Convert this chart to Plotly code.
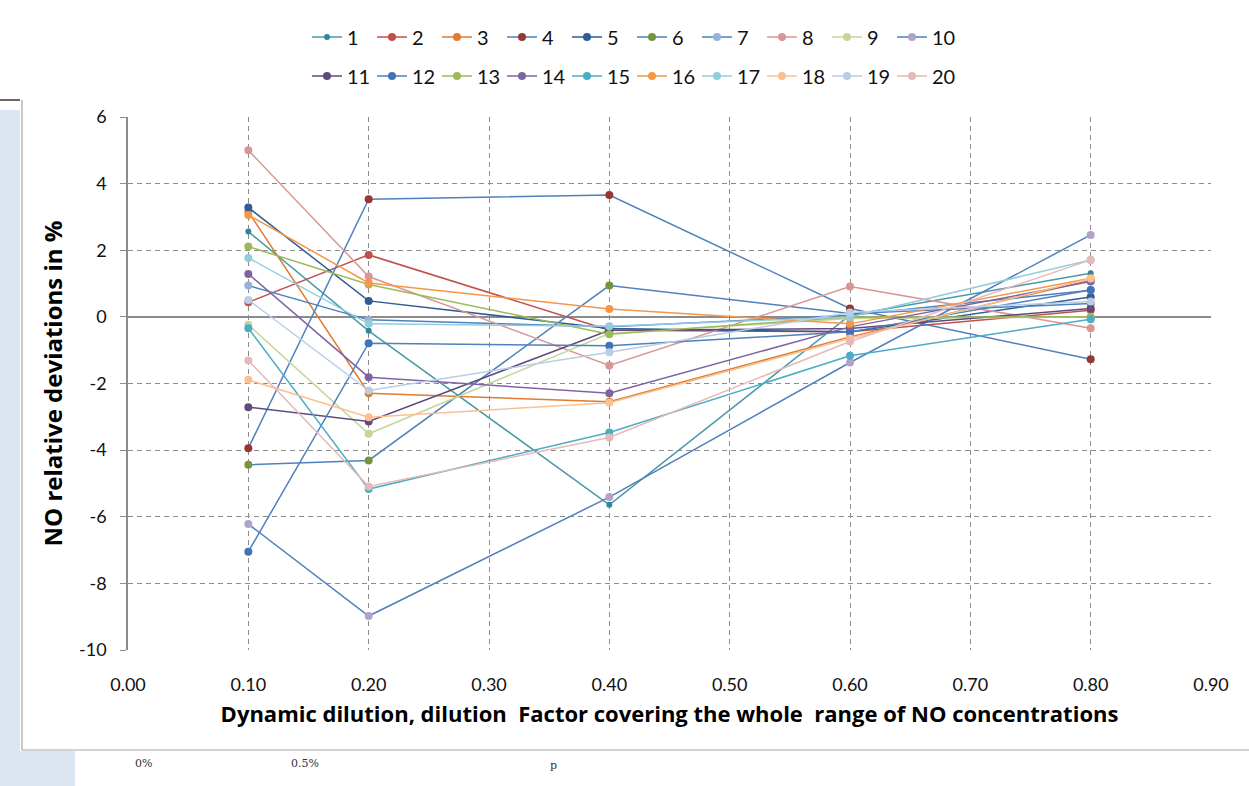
import plotly.graph_objects as go

# Dilution factors at which every series was measured
dilution = [0.1, 0.2, 0.4, 0.6, 0.8]

# NO relative deviations (%) per series
s1 = [2.56, -0.42, -5.64, 0.05, 1.31]
s2 = [0.44, 1.86, -0.40, -0.45, 0.20]
s3 = [3.15, -2.29, -2.55, -0.60, 1.10]
s4 = [-3.94, 3.53, 3.66, 0.25, -1.27]
s5 = [3.28, 0.48, -0.35, -0.45, 0.60]
s6 = [-4.44, -4.31, 0.94, 0.10, 0.40]
s7 = [0.94, -0.09, -0.30, 0.05, 0.80]
s8 = [5.00, 1.21, -1.46, 0.91, -0.34]
s9 = [-0.24, -3.51, -0.50, -0.05, 0.00]
s10 = [-6.22, -8.98, -5.41, -1.37, 2.46]
s11 = [-2.71, -3.14, -0.40, -0.35, 0.25]
s12 = [-7.05, -0.79, -0.87, -0.45, 0.81]
s13 = [2.11, 0.97, -0.52, 0.00, 0.00]
s14 = [1.29, -1.81, -2.29, -0.30, 1.06]
s15 = [-0.34, -5.17, -3.47, -1.17, -0.07]
s16 = [3.06, 1.02, 0.24, -0.21, 1.16]
s17 = [1.77, -0.21, -0.28, 0.00, 1.71]
s18 = [-1.89, -3.01, -2.58, -0.65, 1.15]
s19 = [0.51, -2.21, -1.06, 0.13, 0.46]
s20 = [-1.31, -5.09, -3.62, -0.74, 1.71]

series = [s1, s2, s3, s4, s5, s6, s7, s8, s9, s10,
          s11, s12, s13, s14, s15, s16, s17, s18, s19, s20]
names = [str(i) for i in range(1, 21)]

# Axis ticks
x_ticks = [0.0, 0.1, 0.2, 0.3, 0.4, 0.5, 0.6, 0.7, 0.8, 0.9]
x_labels = ["0.00", "0.10", "0.20", "0.30", "0.40", "0.50",
            "0.60", "0.70", "0.80", "0.90"]
y_ticks = [-10, -8, -6, -4, -2, 0, 2, 4, 6]
y_labels = ["-10", "-8", "-6", "-4", "-2", "0", "2", "4", "6"]

# (line colour, marker colour) per series
line_colors = ["#4A98A8", "#C0504D", "#E07B30", "#4F81BD", "#2F5C92",
               "#4F81BD", "#4F81BD", "#D99694", "#C3D69B", "#4F81BD",
               "#604A7B", "#4F81BD", "#9BBB59", "#8064A2", "#4BACC6",
               "#F79646", "#93CDDD", "#FAC090", "#B9CDE5", "#E6B9B8"]
marker_colors = ["#31859C", "#C0504D", "#E07B30", "#953735", "#2F5C92",
                 "#77933C", "#95B3D7", "#D99694", "#C3D69B", "#B3A2C7",
                 "#604A7B", "#3F74B5", "#9BBB59", "#8064A2", "#4BACC6",
                 "#F79646", "#93CDDD", "#FAC090", "#B9CDE5", "#E6B9B8"]

FONT = "Lato, 'Open Sans', sans-serif"
TITLE_FONT = "'Open Sans', Lato, sans-serif"

fig = go.Figure()
for i, (vals, nm) in enumerate(zip(series, names)):
    fig.add_trace(go.Scatter(
        x=dilution, y=vals, name=nm, mode="lines+markers",
        line=dict(color=line_colors[i], width=1.5),
        marker=dict(color=marker_colors[i], size=6 if i == 0 else 8),
        legend="legend" if i < 10 else "legend2",
    ))

# frame and background strips around the chart
shapes = [
    dict(type="rect", xref="paper", yref="paper",
         x0=-0.1182, x1=-0.0997, y0=-0.2720, y1=1.0131,
         fillcolor="#DCE6F2", line=dict(width=0), layer="below"),
    dict(type="rect", xref="paper", yref="paper",
         x0=-0.1182, x1=-0.0489, y0=-0.2720, y1=-0.1895,
         fillcolor="#DCE6F2", line=dict(width=0), layer="below"),
    dict(type="line", xref="paper", yref="paper",
         x0=-0.0979, x1=-0.0979, y0=-0.1876, y1=1.0319,
         line=dict(color="#A6A6A6", width=1.2)),
    dict(type="line", xref="paper", yref="paper",
         x0=-0.0979, x1=1.0365, y0=-0.1876, y1=-0.1876,
         line=dict(color="#A6A6A6", width=1.2)),
    dict(type="line", xref="paper", yref="paper",
         x0=-0.1182, x1=-0.0997, y0=1.0319, y1=1.0319,
         line=dict(color="#000000", width=1.2)),
]

annotations = [
    dict(text="0%", xref="paper", yref="paper", x=(133 - 128) / 1083,
         y=(650 - 772) / 533, showarrow=False,
         font=dict(family="DejaVu Serif", size=11, color="#333")),
    dict(text="0.5%", xref="paper", yref="paper", x=(289 - 128) / 1083,
         y=(650 - 772) / 533, showarrow=False,
         font=dict(family="DejaVu Serif", size=11, color="#333")),
    dict(text="p", xref="paper", yref="paper", x=(553 - 128) / 1083,
         y=(650 - 774) / 533, showarrow=False,
         font=dict(family="DejaVu Serif", size=11, color="#333")),
]

legend_style = dict(
    orientation="h", xanchor="center", x=(632 - 128) / 1083, yanchor="middle",
    font=dict(family=FONT, size=20, color="#111"),
    entrywidth=20, entrywidthmode="pixels", itemwidth=30,
    bgcolor="rgba(0,0,0,0)", tracegroupgap=0,
)

grid_dash = "5px,4px"

fig.update_layout(
    width=1249, height=786,
    margin=dict(l=128, r=38, t=117, b=136),
    paper_bgcolor="white", plot_bgcolor="white",
    font=dict(family=FONT, color="#111"),
    shapes=shapes, annotations=annotations,
    legend=dict(**legend_style, y=(650 - 37) / 533),
    legend2=dict(**legend_style, y=(650 - 76) / 533),
    xaxis=dict(
        range=[0, 0.9], tickmode="array",
        tickvals=x_ticks, ticktext=x_labels,
        showgrid=True, gridcolor="#8C8C8C", griddash=grid_dash, gridwidth=1,
        zeroline=False, showline=False, ticks="",
        ticklabelstandoff=22,
        tickfont=dict(family=FONT, size=18, color="#111"),
        title=dict(
            text="Dynamic dilution, dilution\u00a0 Factor covering the whole\u00a0 range of NO concentrations",
            font=dict(family=TITLE_FONT, size=22, color="#000", weight="bold"),
            standoff=12),
    ),
    yaxis=dict(
        range=[-10, 6], tickmode="array",
        tickvals=y_ticks, ticktext=y_labels,
        showgrid=True, gridcolor="#8C8C8C", griddash=grid_dash, gridwidth=1,
        zeroline=True, zerolinecolor="#8C8C8C", zerolinewidth=1.5,
        showline=True, linecolor="#8C8C8C", linewidth=1.5,
        ticks="outside", ticklen=6, tickcolor="#8C8C8C",
        ticklabelstandoff=10,
        tickfont=dict(family=FONT, size=18, color="#111"),
        title=dict(text="NO relative deviations in %",
                   font=dict(family=TITLE_FONT, size=24, color="#000", weight="bold"),
                   standoff=10),
    ),
    showlegend=True,
)

fig.write_html("out.html")
